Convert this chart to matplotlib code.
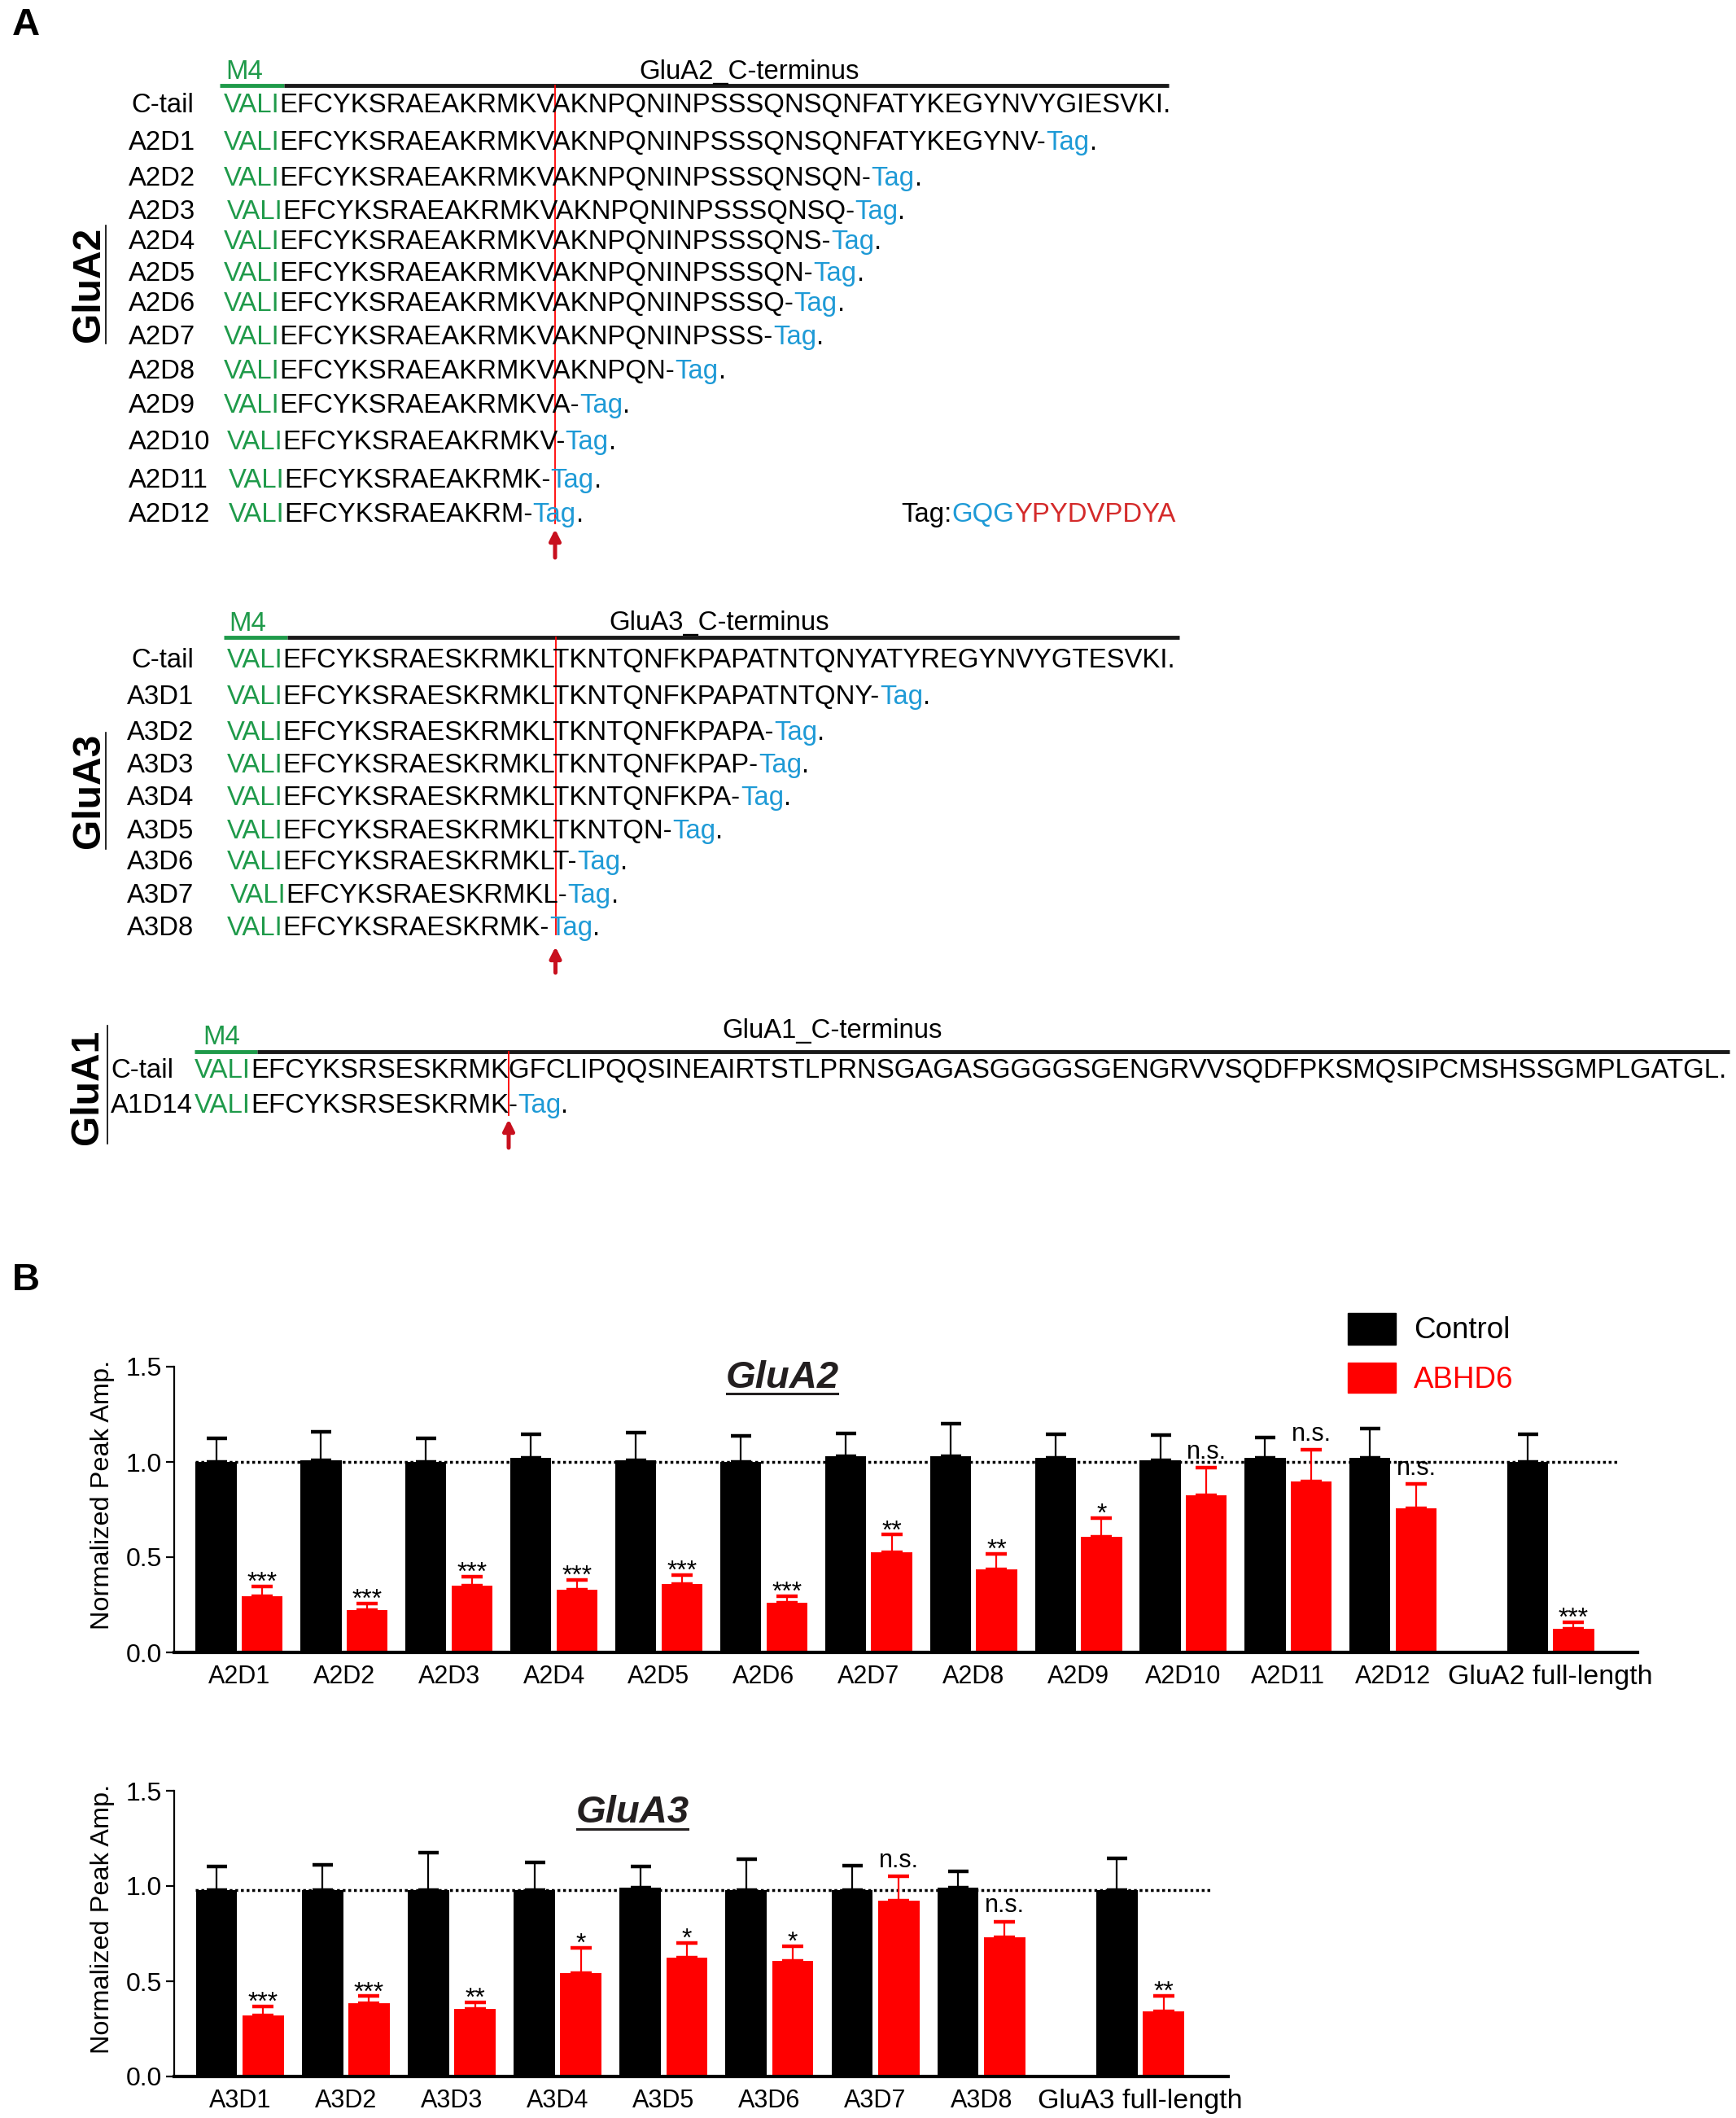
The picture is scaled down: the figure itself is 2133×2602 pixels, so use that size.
import matplotlib
matplotlib.use("Agg")
import matplotlib.pyplot as plt
import numpy as np
from matplotlib.font_manager import FontProperties
from matplotlib.patches import Rectangle

plt.rcParams['font.family'] = ['Liberation Sans', 'DejaVu Sans']

W, H = 2133, 2602

GREEN = '#1f9a4a'
BLUE = '#1e9ad6'
TAGRED = '#d42a2a'
RED = '#ff0000'
ARROW = '#c8101e'

# ---- panel A data: sequences ----
a2_names = ['C-tail', 'A2D1', 'A2D2', 'A2D3', 'A2D4', 'A2D5', 'A2D6', 'A2D7',
            'A2D8', 'A2D9', 'A2D10', 'A2D11', 'A2D12']
a2_seqs = ['EFCYKSRAEAKRMKVAKNPQNINPSSSQNSQNFATYKEGYNVYGIESVKI',
           'EFCYKSRAEAKRMKVAKNPQNINPSSSQNSQNFATYKEGYNV',
           'EFCYKSRAEAKRMKVAKNPQNINPSSSQNSQN',
           'EFCYKSRAEAKRMKVAKNPQNINPSSSQNSQ',
           'EFCYKSRAEAKRMKVAKNPQNINPSSSQNS',
           'EFCYKSRAEAKRMKVAKNPQNINPSSSQN',
           'EFCYKSRAEAKRMKVAKNPQNINPSSSQ',
           'EFCYKSRAEAKRMKVAKNPQNINPSSS',
           'EFCYKSRAEAKRMKVAKNPQN',
           'EFCYKSRAEAKRMKVA',
           'EFCYKSRAEAKRMKV',
           'EFCYKSRAEAKRMK',
           'EFCYKSRAEAKRM']
a3_names = ['C-tail', 'A3D1', 'A3D2', 'A3D3', 'A3D4', 'A3D5', 'A3D6', 'A3D7', 'A3D8']
a3_seqs = ['EFCYKSRAESKRMKLTKNTQNFKPAPATNTQNYATYREGYNVYGTESVKI',
           'EFCYKSRAESKRMKLTKNTQNFKPAPATNTQNY',
           'EFCYKSRAESKRMKLTKNTQNFKPAPA',
           'EFCYKSRAESKRMKLTKNTQNFKPAP',
           'EFCYKSRAESKRMKLTKNTQNFKPA',
           'EFCYKSRAESKRMKLTKNTQN',
           'EFCYKSRAESKRMKLT',
           'EFCYKSRAESKRMKL',
           'EFCYKSRAESKRMK']
a1_names = ['C-tail', 'A1D14']
a1_seqs = ['EFCYKSRSESKRMKGFCLIPQQSINEAIRTSTLPRNSGAGASGGGGSGENGRVVSQDFPKSMQSIPCMSHSSGMPLGATGL',
           'EFCYKSRSESKRMK']
m4_seq = 'VALI'
tag_seq = ('GQG', 'YPYDVPDYA')

# ---- panel B data ----
a2_labels = ['A2D1', 'A2D2', 'A2D3', 'A2D4', 'A2D5', 'A2D6', 'A2D7', 'A2D8',
             'A2D9', 'A2D10', 'A2D11', 'A2D12', 'GluA2 full-length']
a2_ctrl = [1.00, 1.01, 1.00, 1.02, 1.01, 1.00, 1.03, 1.03, 1.02, 1.01, 1.02, 1.02, 1.00]
a2_ctrl_err = [0.125, 0.15, 0.124, 0.126, 0.144, 0.138, 0.118, 0.171, 0.124, 0.129, 0.11, 0.155, 0.145]
a2_abhd = [0.295, 0.221, 0.349, 0.328, 0.36, 0.262, 0.524, 0.438, 0.605, 0.826, 0.896, 0.758, 0.125]
a2_abhd_err = [0.051, 0.035, 0.05, 0.054, 0.045, 0.034, 0.094, 0.081, 0.102, 0.142, 0.168, 0.127, 0.035]
a2_sig = ['***', '***', '***', '***', '***', '***', '**', '**', '*', 'n.s.', 'n.s.', 'n.s.', '***']
a2_ref = 1.0

a3_labels = ['A3D1', 'A3D2', 'A3D3', 'A3D4', 'A3D5', 'A3D6', 'A3D7', 'A3D8', 'GluA3 full-length']
a3_ctrl = [0.98, 0.98, 0.98, 0.98, 0.99, 0.98, 0.98, 0.99, 0.98]
a3_ctrl_err = [0.121, 0.131, 0.197, 0.146, 0.111, 0.163, 0.128, 0.087, 0.167]
a3_abhd = [0.321, 0.383, 0.354, 0.544, 0.623, 0.607, 0.923, 0.73, 0.344]
a3_abhd_err = [0.046, 0.038, 0.036, 0.133, 0.079, 0.076, 0.128, 0.084, 0.08]
a3_sig = ['***', '***', '**', '*', '*', '*', 'n.s.', 'n.s.', '**']
a3_ref = 0.98

fig = plt.figure(figsize=(W / 100, H / 100), dpi=100)
ov = fig.add_axes([0, 0, 1, 1])
ov.set_xlim(0, W)
ov.set_ylim(H, 0)
ov.axis('off')
ov.patch.set_visible(False)
ov.set_zorder(5)
R = fig.canvas.get_renderer()


def px(pt):
    return pt * 100 / 72


def adv(s, size, weight='normal'):
    fp = FontProperties(family=['Liberation Sans'], size=size, weight=weight)
    a = R.get_text_width_height_descent(s + 'I', fp, ismath=False)[0]
    b = R.get_text_width_height_descent('I', fp, ismath=False)[0]
    return a - b


def parts_text(x, yc, parts, size):
    base = yc + 0.716 * px(size) / 2
    acc = ''
    for s, c in parts:
        ov.text(x + adv(acc, size), base, s, color=c, fontsize=size, va='baseline', ha='left')
        acc += s


def row_parts(seq, last):
    if last:
        return [(m4_seq, GREEN), (seq + '.', 'black')]
    return [(m4_seq, GREEN), (seq + '-', 'black'), ('Tag', BLUE), ('.', 'black')]


def block(names, seqs, ys, xs, lab_xs, size, head, cut, cut_y, arrow_y,
          m4_xy, green, black_end, term_xy, gname, gxy, gline):
    for i, (n, s) in enumerate(zip(names, seqs)):
        parts_text(lab_xs[i], ys[i], [(n, 'black')], size)
        parts_text(xs[i], ys[i], row_parts(s, i == 0), size)
    # header
    parts_text(m4_xy[0], m4_xy[1], [('M4', GREEN)], 23.7)
    ov.plot([green[0], green[1]], [green[2]] * 2, color=GREEN, lw=3.5, solid_capstyle='butt')
    ov.plot([green[1], black_end], [green[2]] * 2, color='#1a1a1a', lw=3.5, solid_capstyle='butt')
    ov.text(term_xy[0], term_xy[1] + 0.716 * px(23.7) / 2, head, fontsize=23.7,
            ha='center', va='baseline')
    # cut line and arrow
    xc = xs[0] + adv(m4_seq + seqs[0][:cut], size)
    ov.plot([xc, xc], cut_y, color='red', lw=1.3)
    ov.annotate('', xy=(xc, arrow_y[1]), xytext=(xc, arrow_y[0]),
                arrowprops=dict(arrowstyle='-|>', color=ARROW, lw=3.6, mutation_scale=20,
                                shrinkA=0, shrinkB=0))
    # group label
    ov.text(gxy[0], gxy[1], gname, rotation=90, fontsize=34.5, fontweight='bold',
            ha='center', va='center')
    ov.plot([gline[0]] * 2, gline[1:], color='black', lw=1.2)


ov.text(32, 31, 'A', fontsize=34, fontweight='bold', ha='center', va='center')
ov.text(32, 1573, 'B', fontsize=34, fontweight='bold', ha='center', va='center')

SEQ = 23.7
block(a2_names, a2_seqs,
      [126, 172, 216.5, 257, 294, 333, 370.5, 411, 453, 495.5, 540, 587, 629],
      [275, 275, 275, 278.5, 275, 275, 275, 275, 275, 275, 278.5, 280.6, 280.6],
      [161] + [158] * 12, SEQ, 'GluA2_C-terminus', 15, (105, 643), (685, 650),
      (277, 85), (270, 349, 105), 1436, (921, 85), 'GluA2', (109, 349.5), (130, 277, 422))

block(a3_names, a3_seqs,
      [808, 853, 897, 937, 977, 1018, 1056, 1097, 1137],
      [279, 279, 279, 279, 279, 279, 279, 283, 279],
      [161] + [156] * 8, SEQ, 'GluA3_C-terminus', 15, (783, 1148), (1195, 1163),
      (281, 763), (275, 353, 783), 1449, (884, 762), 'GluA3', (109, 971), (130, 900, 1043))

a1_size = SEQ * (2125 - 239) / adv(m4_seq + a1_seqs[0] + '.', SEQ)
block(a1_names, a1_seqs, [1312, 1355], [239, 239], [136, 136], a1_size,
      'GluA1_C-terminus', 14, (1292, 1370), (1410, 1375),
      (249, 1271), (239, 316, 1292), 2125, (1023, 1263), 'GluA1', (108, 1335), (132, 1260, 1405))

# tag definition
parts_text(1107, 629, [('Tag:', 'black'), (tag_seq[0], BLUE), (tag_seq[1], TAGRED)], SEQ)


# ---- panel B ----
def box(l, t, r, b):
    return [l / W, 1 - b / H, (r - l) / W, (b - t) / H]


def bar_panel(rect, labels, ctrl, ctrl_err, abhd, abhd_err, sig, ref, xmax):
    ax = fig.add_axes(rect)
    ax.patch.set_visible(False)
    n = len(labels)
    x = np.r_[np.arange(n - 1), n - 0.5]
    ax.plot([x[0] - 0.42, x[-1] + 0.66], [ref, ref], ls=(0, (1, 1)), color='black',
            lw=2.5, zorder=1)
    ax.bar(x - 0.22, ctrl, 0.39, color='black', zorder=2)
    ax.bar(x + 0.22, abhd, 0.39, color=RED, zorder=2)
    ax.errorbar(x - 0.22, ctrl, yerr=[np.zeros(n), ctrl_err], fmt='none', ecolor='black',
                elinewidth=1.6, capsize=9, capthick=3.2, zorder=3)
    ax.errorbar(x + 0.22, abhd, yerr=[np.zeros(n), abhd_err], fmt='none', ecolor=RED,
                elinewidth=1.6, capsize=9.5, capthick=3.2, zorder=3)
    for xi, v, e, s in zip(x, abhd, abhd_err, sig):
        off = 8 if s == 'n.s.' else -3
        fs = 22 if s == 'n.s.' else 23
        ax.annotate(s, xy=(xi + 0.22, v + e), xytext=(0, off), textcoords='offset points',
                    ha='center', va='baseline', fontsize=fs, zorder=4)
    ax.set_xlim(-0.62, xmax)
    ax.set_ylim(0, 1.5)
    ax.set_yticks([0, 0.5, 1.0, 1.5])
    ax.set_yticklabels(['0.0', '0.5', '1.0', '1.5'])
    ax.set_xticks(x)
    ax.set_xticklabels(labels)
    ax.get_xticklabels()[-1].set_fontsize(24.5)
    ax.spines['top'].set_visible(False)
    ax.spines['right'].set_visible(False)
    ax.spines['left'].set_linewidth(1.6)
    ax.spines['bottom'].set_linewidth(3)
    ax.tick_params(axis='y', direction='out', length=7, width=1.6, labelsize=23, pad=4)
    ax.tick_params(axis='x', length=0, labelsize=22, pad=11)
    ax.get_xticklabels()[-1].set_fontsize(24.5)
    return ax


bar_panel(box(214, 1679, 2012, 2030), a2_labels, a2_ctrl, a2_ctrl_err, a2_abhd,
          a2_abhd_err, a2_sig, a2_ref, 13.33)
bar_panel(box(214, 2200, 1509, 2551), a3_labels, a3_ctrl, a3_ctrl_err, a3_abhd,
          a3_abhd_err, a3_sig, a3_ref, 9.33)

for yc in (1836, 2357):
    ov.text(126, yc, 'Normalized Peak Amp.', rotation=90, fontsize=23.4, ha='center', va='center')

# titles with underline
for name, (xc, yc, yu) in [('GluA2', (961, 1693, 1712)), ('GluA3', (777, 2227, 2247))]:
    t = ov.text(xc, yc, name, fontsize=34, fontweight='bold', fontstyle='italic',
                color='#231f20', ha='center', va='center')
    bb = t.get_window_extent(R)
    ov.plot([bb.x0 + 2, bb.x1 - 2], [yu, yu], color='#231f20', lw=2.2)

# legend
ov.add_patch(Rectangle((1656, 1613), 59, 39, color='black'))
ov.add_patch(Rectangle((1656, 1674), 59, 37, color=RED))
ov.text(1737, 1631 + 0.716 * px(26.5) / 2, 'Control', fontsize=26.5, va='baseline')
ov.text(1737, 1692 + 0.716 * px(26.5) / 2, 'ABHD6', fontsize=26.5, va='baseline', color=RED)

fig.savefig('out.png', dpi=100)
